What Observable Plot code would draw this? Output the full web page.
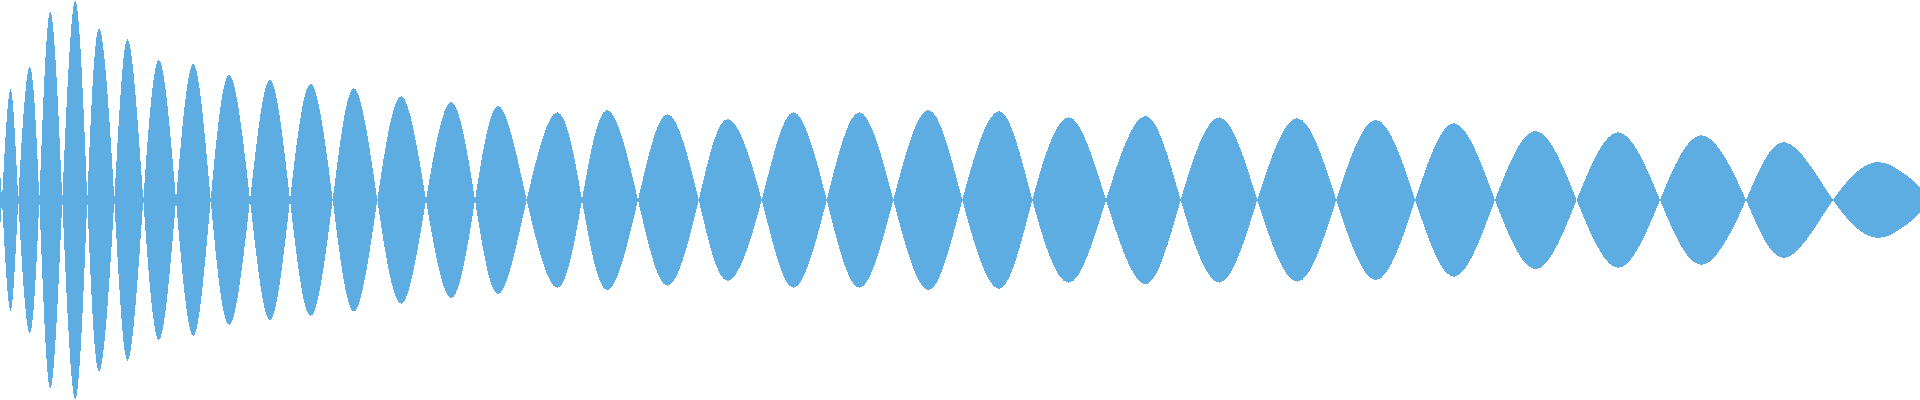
<!DOCTYPE html>
<html>
<head>
<meta charset="utf-8">
<script src="https://cdn.jsdelivr.net/npm/d3@7"></script>
<script src="https://cdn.jsdelivr.net/npm/@observablehq/plot@0.6"></script>
<style>
  html, body { margin: 0; padding: 0; background: #fff; }
  #chart svg path { shape-rendering: crispEdges; }
</style>
</head>
<body>
<div id="chart"></div>
<script>
// Signal: zero crossings, lobe peaks (position, amplitude)
const startX = 0, startAmp = 15;
const zeroX = [2, 18.3, 39.3, 62.3, 87.3, 114.3, 143.3, 176, 210.7, 250, 290, 332.7, 377.3, 426, 475,
  526.7, 582, 638, 698.7, 761.7, 826.7, 893.3, 962.3, 1032.3, 1106, 1180.7, 1257.3, 1336.3, 1415.3,
  1495, 1576.7, 1660, 1746, 1833];
const peakX = [10, 29.3, 50, 75.3, 99.3, 127.7, 159, 193.3, 229.3, 270, 310.7, 354, 401.3, 451.3,
  498.3, 557.3, 607.3, 667.7, 727.7, 793.3, 859.3, 928.3, 999, 1068.7, 1145.3, 1219.3, 1297.3, 1376,
  1454.3, 1536, 1618.3, 1701.7, 1785.3, 1873.3];
const peakAmp = [110, 132.7, 188.3, 199, 171.7, 160.7, 140, 136, 125, 120, 116, 111.7, 103.7, 98,
  94, 87.7, 90, 85.7, 81, 87.7, 87.7, 90, 88.7, 82.7, 84, 82.7, 81.7, 80, 76.7, 69, 67.7, 64.7, 57.7, 37.3];
const tailX = [1900, 1910, 1920];
const tailAmp = [29, 22, 13];

// Build the signed signal table from the arrays
const points = [{x: startX, v: -startAmp}];
peakX.forEach((px, i) => {
  const s = i % 2 === 0 ? 1 : -1;
  points.push({x: zeroX[i], v: 0});
  points.push({x: px, v: s * peakAmp[i]});
});
const lastSign = (peakX.length - 1) % 2 === 0 ? 1 : -1;
tailX.forEach((tx, i) => points.push({x: tx, v: lastSign * tailAmp[i]}));

const chart = Plot.plot({
  width: 1920,
  height: 400,
  margin: 0,
  x: {domain: [0, 1920], axis: null},
  y: {domain: [-200, 200], axis: null},
  marks: [
    Plot.areaY(points, {x: "x", y1: d => -d.v, y2: d => d.v, curve: "natural", fill: "#5dade2"})
  ]
});
document.getElementById("chart").appendChild(chart);
</script>
</body>
</html>
